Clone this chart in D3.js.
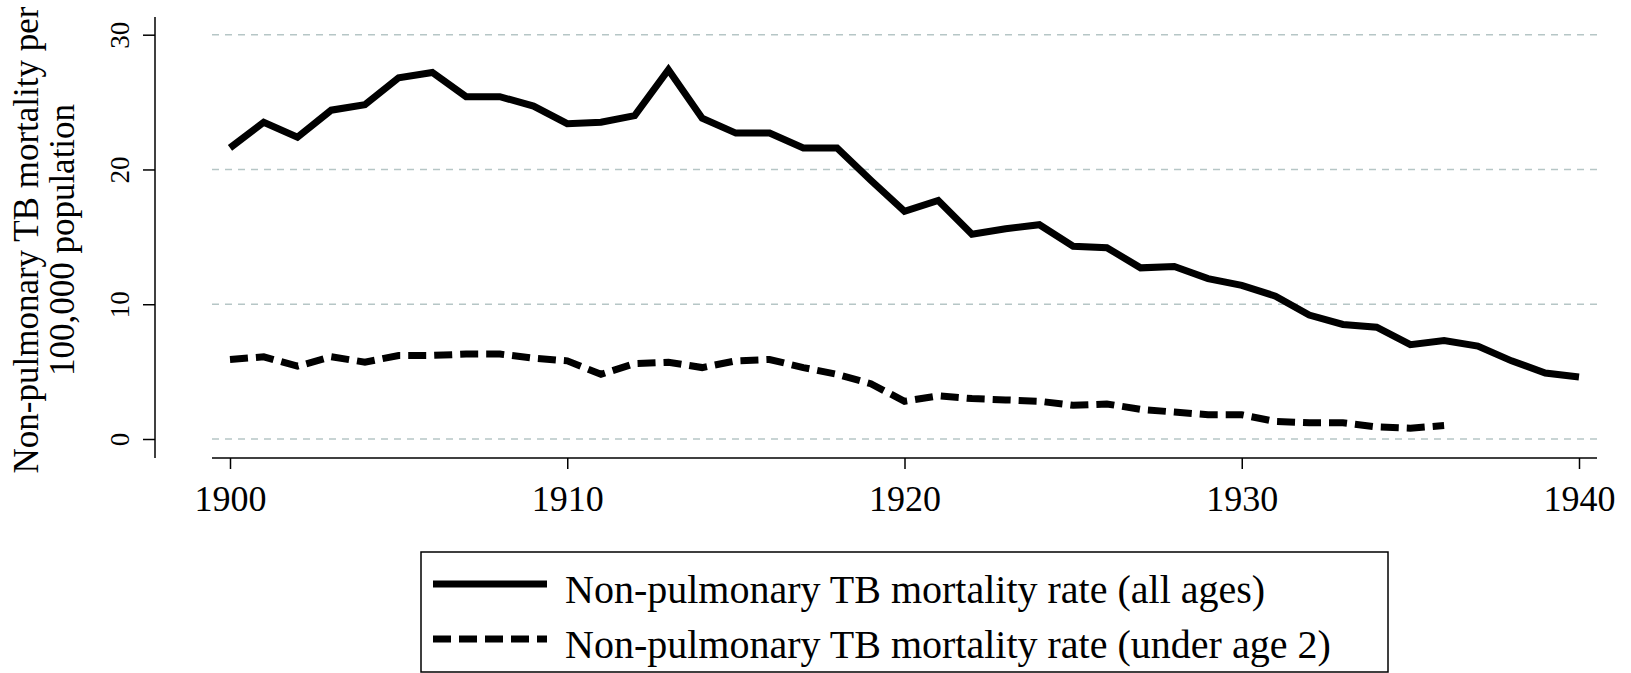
<!DOCTYPE html>
<html>
<head>
<meta charset="utf-8">
<script src="https://cdn.jsdelivr.net/npm/d3@7"></script>
<style>
  html, body { margin: 0; padding: 0; background: #fff; }
  svg { display: block; }
  text { font-family: "Liberation Serif", "DejaVu Serif", serif; fill: #000; }
</style>
</head>
<body>
<svg id="chart" width="1631" height="673"></svg>
<script>
// ---- Data ----
const years = d3.range(1900, 1941);
const allAges = [21.6, 23.5, 22.4, 24.4, 24.8, 26.8, 27.2, 25.4, 25.4, 24.7,
                 23.4, 23.5, 24.0, 27.4, 23.8, 22.7, 22.7, 21.6, 21.6, 19.2,
                 16.9, 17.7, 15.2, 15.6, 15.9, 14.3, 14.2, 12.7, 12.8, 11.9,
                 11.4, 10.6, 9.2, 8.5, 8.3, 7.0, 7.3, 6.9, 5.8, 4.9, 4.6];
const under2Years = d3.range(1900, 1937);
const under2 = [5.9, 6.1, 5.4, 6.1, 5.7, 6.2, 6.2, 6.3, 6.3, 6.0,
                5.8, 4.8, 5.6, 5.7, 5.3, 5.8, 5.9, 5.3, 4.8, 4.1,
                2.8, 3.2, 3.0, 2.9, 2.8, 2.5, 2.6, 2.2, 2.0, 1.8,
                1.8, 1.3, 1.2, 1.2, 0.9, 0.8, 1.0];
const yTicks = [0, 10, 20, 30];
const xTicks = [1900, 1910, 1920, 1930, 1940];
const yTitle = ["Non-pulmonary TB mortality per", "100,000 population"];
const seriesNames = ["Non-pulmonary TB mortality rate (all ages)",
                     "Non-pulmonary TB mortality rate (under age 2)"];

// ---- Layout ----
const svg = d3.select("#chart");
const x = d3.scaleLinear().domain([1900, 1940]).range([230, 1579]);
const y = d3.scaleLinear().domain([0, 30]).range([439, 34.7]);
const plotLeft = 212, plotRight = 1597, axisY = 458, axisX = 155, axisTop = 17;

// gridlines
svg.append("g").selectAll("line").data(yTicks).join("line")
  .attr("x1", plotLeft).attr("x2", plotRight)
  .attr("y1", d => y(d)).attr("y2", d => y(d))
  .attr("stroke", "#b6c6c6").attr("stroke-width", 1.6)
  .attr("stroke-dasharray", "7,6");

// y axis
const gy = svg.append("g").attr("transform", `translate(${axisX},0)`)
  .call(d3.axisLeft(y).tickValues(yTicks).tickSize(12).tickSizeOuter(0).tickPadding(0));
gy.select(".domain").remove();
gy.selectAll(".tick line").attr("stroke", "#000").attr("stroke-width", 1.5);
gy.selectAll(".tick text")
  .attr("x", 0).attr("y", 0).attr("dy", null)
  .attr("transform", "translate(-26,0) rotate(-90)")
  .attr("text-anchor", "middle")
  .style("font-size", "27px")
  .style("font-family", '"Liberation Serif", serif');
svg.append("line").attr("x1", axisX).attr("x2", axisX)
  .attr("y1", axisTop).attr("y2", axisY)
  .attr("stroke", "#000").attr("stroke-width", 1.5);

// x axis
const gx = svg.append("g").attr("transform", `translate(0,${axisY})`)
  .call(d3.axisBottom(x).tickValues(xTicks).tickFormat(d3.format("d"))
        .tickSize(11).tickSizeOuter(0).tickPadding(0));
gx.select(".domain").remove();
gx.selectAll(".tick line").attr("stroke", "#000").attr("stroke-width", 1.5);
gx.selectAll(".tick text").attr("y", 53).attr("dy", null)
  .style("font-size", "36px")
  .style("font-family", '"Liberation Serif", serif');
svg.append("line").attr("x1", plotLeft).attr("x2", plotRight)
  .attr("y1", axisY).attr("y2", axisY)
  .attr("stroke", "#000").attr("stroke-width", 1.5);

// y title
const yt = svg.append("text")
  .attr("transform", `translate(0,240) rotate(-90)`)
  .attr("text-anchor", "middle")
  .style("font-size", "35px");
yt.selectAll("tspan").data(yTitle).join("tspan")
  .attr("x", 0).attr("y", (d, i) => i === 0 ? 38 : 74)
  .text(d => d);

// lines
const line = d3.line().x(d => x(d[0])).y(d => y(d[1]));
svg.append("path")
  .datum(years.map((yr, i) => [yr, allAges[i]]))
  .attr("d", line).attr("fill", "none").attr("stroke", "#000")
  .attr("stroke-width", 7).attr("stroke-linejoin", "miter");
svg.append("path")
  .datum(under2Years.map((yr, i) => [yr, under2[i]]))
  .attr("d", line).attr("fill", "none").attr("stroke", "#000")
  .attr("stroke-width", 7).attr("stroke-dasharray", "18,8");

// legend
const lg = svg.append("g");
lg.append("rect").attr("x", 421).attr("y", 552).attr("width", 967).attr("height", 120)
  .attr("fill", "#fff").attr("stroke", "#000").attr("stroke-width", 1.5);
const rows = lg.selectAll("g.row").data(seriesNames).join("g")
  .attr("class", "row")
  .attr("transform", (d, i) => `translate(0,${584 + i * 55})`);
rows.append("line").attr("x1", 433).attr("x2", 547).attr("y1", 0).attr("y2", 0)
  .attr("stroke", "#000").attr("stroke-width", 7)
  .attr("stroke-dasharray", (d, i) => i === 0 ? null : "18,8");
rows.append("text").attr("x", 565).attr("y", 19)
  .style("font-size", "40px").text(d => d);
</script>
</body>
</html>
